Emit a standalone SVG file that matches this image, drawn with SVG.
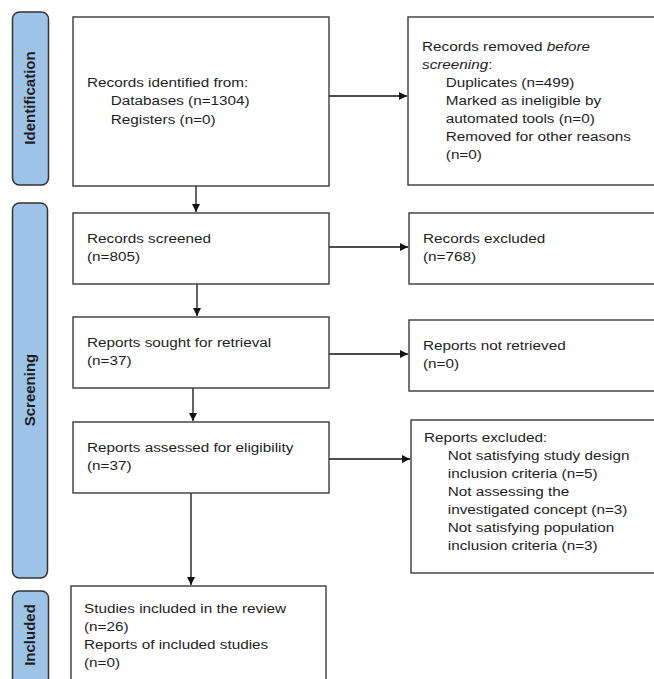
<svg xmlns="http://www.w3.org/2000/svg" width="654" height="679" viewBox="0 0 654 679">
<defs>
<marker id="ah" viewBox="0 0 10 10" refX="10" refY="5" markerWidth="9" markerHeight="8" markerUnits="userSpaceOnUse" orient="auto">
<path d="M0,0 L10,5 L0,10 z" fill="#111"/>
</marker>
<style>
.bar{fill:#9dc3e6;stroke:#333;stroke-width:1.5}
.box{fill:#fff;stroke:#3a3a3a;stroke-width:1.4}
.lbl{font-family:"Liberation Sans",Arial,sans-serif;font-weight:bold;font-size:15px;fill:#1e1e1e;text-anchor:middle}
.t{font-family:"Liberation Sans",Arial,sans-serif;font-size:13.5px;fill:#1e1e1e}
.c{stroke:#111;stroke-width:1.3;fill:none;marker-end:url(#ah)}
</style>
</defs>
<rect width="654" height="679" fill="#fff"/>

<g id="phase-identification">
<rect class="bar" x="12.5" y="12" width="36" height="173" rx="7"/>
<text class="lbl" transform="translate(35,98) rotate(-90)">Identification</text>
</g>
<g id="phase-screening">
<rect class="bar" x="12.5" y="203" width="35" height="375" rx="7"/>
<text class="lbl" transform="translate(35,390) rotate(-90)">Screening</text>
</g>
<g id="phase-included">
<rect class="bar" x="12.5" y="591" width="36" height="100" rx="7"/>
<text class="lbl" transform="translate(35,635) rotate(-90)">Included</text>
</g>

<g id="connectors">
<line class="c" x1="329" y1="96" x2="407" y2="96"/>
<line class="c" x1="196" y1="186" x2="196" y2="212"/>
<line class="c" x1="329" y1="247" x2="408" y2="247"/>
<line class="c" x1="197" y1="284" x2="197" y2="316"/>
<line class="c" x1="329" y1="354" x2="408" y2="354"/>
<line class="c" x1="193" y1="388" x2="193" y2="421"/>
<line class="c" x1="329" y1="459" x2="410" y2="459"/>
<line class="c" x1="191" y1="493" x2="191" y2="585"/>
</g>

<g id="records-identified">
<rect class="box" x="73" y="17" width="256" height="169"/>
<text class="t" transform="translate(87,87) scale(1.133,1)"><tspan x="0" y="0">Records identified from:</tspan><tspan x="21" y="18.5">Databases (n=1304)</tspan><tspan x="21" y="37">Registers (n=0)</tspan></text>
</g>

<g id="records-removed">
<rect class="box" x="408" y="17" width="256" height="168"/>
<text class="t" transform="translate(422,51) scale(1.133,1)"><tspan x="0" y="0">Records removed <tspan font-style="italic">before</tspan></tspan><tspan x="0" y="18"><tspan font-style="italic">screening</tspan>:</tspan><tspan x="21" y="36">Duplicates (n=499)</tspan><tspan x="21" y="54">Marked as ineligible by</tspan><tspan x="21" y="72">automated tools (n=0)</tspan><tspan x="21" y="90">Removed for other reasons</tspan><tspan x="21" y="108">(n=0)</tspan></text>
</g>

<g id="records-screened">
<rect class="box" x="73" y="213" width="256" height="71"/>
<text class="t" transform="translate(87,243) scale(1.133,1)"><tspan x="0" y="0">Records screened</tspan><tspan x="0" y="18.5">(n=805)</tspan></text>
</g>

<g id="records-excluded">
<rect class="box" x="409" y="213" width="256" height="71"/>
<text class="t" transform="translate(423,243) scale(1.133,1)"><tspan x="0" y="0">Records excluded</tspan><tspan x="0" y="18.5">(n=768)</tspan></text>
</g>

<g id="reports-sought">
<rect class="box" x="73" y="317" width="256" height="71"/>
<text class="t" transform="translate(87,347) scale(1.133,1)"><tspan x="0" y="0">Reports sought for retrieval</tspan><tspan x="0" y="18.5">(n=37)</tspan></text>
</g>

<g id="reports-not-retrieved">
<rect class="box" x="409" y="320" width="256" height="71"/>
<text class="t" transform="translate(423,350) scale(1.133,1)"><tspan x="0" y="0">Reports not retrieved</tspan><tspan x="0" y="18.5">(n=0)</tspan></text>
</g>

<g id="reports-assessed">
<rect class="box" x="73" y="422" width="256" height="71"/>
<text class="t" transform="translate(87,452) scale(1.133,1)"><tspan x="0" y="0">Reports assessed for eligibility</tspan><tspan x="0" y="18.5">(n=37)</tspan></text>
</g>

<g id="reports-excluded">
<rect class="box" x="411" y="420" width="256" height="153"/>
<text class="t" transform="translate(424,442) scale(1.133,1)"><tspan x="0" y="0">Reports excluded:</tspan><tspan x="21" y="18">Not satisfying study design</tspan><tspan x="21" y="36">inclusion criteria (n=5)</tspan><tspan x="21" y="54">Not assessing the</tspan><tspan x="21" y="72">investigated concept (n=3)</tspan><tspan x="21" y="90">Not satisfying population</tspan><tspan x="21" y="108">inclusion criteria (n=3)</tspan></text>
</g>

<g id="studies-included">
<rect class="box" x="71" y="586" width="255" height="110"/>
<text class="t" transform="translate(84,613) scale(1.133,1)"><tspan x="0" y="0">Studies included in the review</tspan><tspan x="0" y="18">(n=26)</tspan><tspan x="0" y="36">Reports of included studies</tspan><tspan x="0" y="54">(n=0)</tspan></text>
</g>
</svg>
